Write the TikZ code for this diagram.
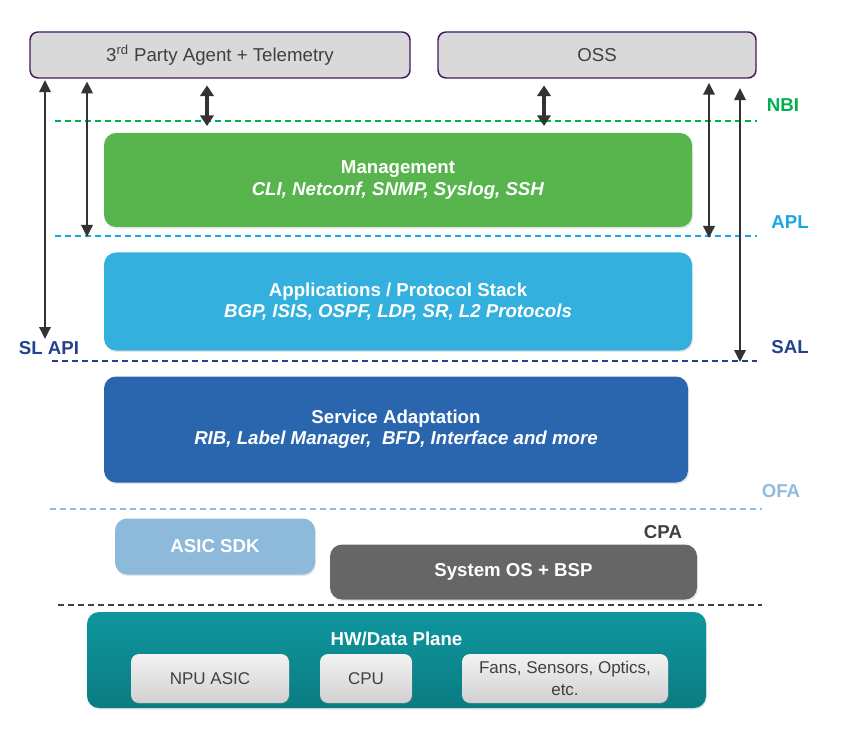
\documentclass[tikz,border=0pt]{standalone}
\usepackage{fontspec}
\setmainfont{Liberation Sans}
\usetikzlibrary{arrows.meta, shadows}
\definecolor{boxedge}{RGB}{65,25,90}
\definecolor{topgray}{RGB}{217,217,217}
\definecolor{txtgray}{RGB}{64,64,64}
\definecolor{arrowgray}{RGB}{51,51,51}
\definecolor{nbigreen}{RGB}{0,176,80}
\definecolor{mgmtgreen}{RGB}{88,181,78}
\definecolor{aplblue}{RGB}{26,167,224}
\definecolor{appsblue}{RGB}{51,176,222}
\definecolor{salnavy}{RGB}{34,65,143}
\definecolor{sablue}{RGB}{42,102,174}
\definecolor{ofablue}{RGB}{143,188,223}
\definecolor{asicblue}{RGB}{141,185,219}
\definecolor{osgray}{RGB}{102,102,102}
\definecolor{hwtop}{RGB}{14,150,157}
\definecolor{hwbot}{RGB}{10,124,130}

\begin{document}
\begin{tikzpicture}[x=0.75pt, y=-0.75pt,
  topbox/.style={draw=boxedge, line width=1.1pt, fill=topgray, rounded corners=6pt, text=txtgray,
    font=\fontsize{14}{16}\selectfont, minimum height=34.5pt},
  layerbox/.style={rounded corners=9pt, text=white, align=center, inner sep=0pt,
    font=\fontsize{14}{16}\selectfont\bfseries,
    drop shadow={opacity=0.2, shadow xshift=0.8pt, shadow yshift=-1.2pt}},
  chipbox/.style={rounded corners=6pt, top color=white!95!black, bottom color=white!82!black, text=txtgray,
    align=center, font=\fontsize{12.75}{16.5}\selectfont, minimum height=36.75pt,
    drop shadow={opacity=0.25, shadow xshift=0.6pt, shadow yshift=-1pt}},
  ifline/.style={dash pattern=on 4.5pt off 3pt, line width=1.1pt},
  iflabel/.style={font=\fontsize{14}{16}\selectfont\bfseries},
  apiarrow/.style={{Triangle[width=8.5pt,length=9pt]}-{Triangle[width=8.5pt,length=9pt]}, line width=1.8pt, arrowgray},
  nbiarrow/.style={{Triangle[width=10pt,length=8pt]}-{Triangle[width=10pt,length=8pt]}, line width=2.6pt, arrowgray}]
  \useasboundingbox (0,0) rectangle (841,748);

  % consumers on top
  \node[topbox, minimum width=285pt] (tpa) at (220,55) {3\textsuperscript{rd} Party Agent + Telemetry};
  \node[topbox, minimum width=238.5pt] (oss) at (597,55) {OSS};

  % software layers
  \node[layerbox, fill=mgmtgreen, minimum width=441pt, minimum height=70.5pt] (mgmt) at (398,180)
    {Management\\\textit{CLI, Netconf, SNMP, Syslog, SSH}};
  \node[layerbox, fill=appsblue, minimum width=441pt, minimum height=73.5pt] (apps) at (398,301.5)
    {Applications / Protocol Stack\\\textit{BGP, ISIS, OSPF, LDP, SR, L2 Protocols}};
  \node[layerbox, fill=sablue, minimum width=438pt, minimum height=79.5pt] (sa) at (396,429.5)
    {Service Adaptation\\\textit{RIB, Label Manager,\ \ BFD, Interface and more}};
  \node[layerbox, fill=asicblue, minimum width=150pt, minimum height=42pt] (asic) at (215,546.5) {ASIC SDK};
  \node[layerbox, fill=osgray, minimum width=275.25pt, minimum height=41.25pt] (sysos) at (513.5,572) {System OS + BSP};

  % hardware
  \node[layerbox, top color=hwtop, bottom color=hwbot, minimum width=464.25pt, minimum height=72pt] (hw) at (396.5,660) {};
  \node[font=\fontsize{14}{16}\selectfont\bfseries, text=white] (hwtitle) at (396.5,639) {HW/Data Plane};
  \node[chipbox, minimum width=118.5pt] (npu) at (210,678.5) {NPU ASIC};
  \node[chipbox, minimum width=69pt] (cpu) at (366,678.5) {CPU};
  \node[chipbox, minimum width=154.5pt] (fans) at (565,678.5) {Fans, Sensors, Optics,\\etc.};

  % interface lines
  \coordinate (nbi-w) at (55,121);  \coordinate (nbi-e) at (757,121);
  \coordinate (apl-w) at (55,236);  \coordinate (apl-e) at (757,236);
  \coordinate (sal-w) at (52,361);  \coordinate (sal-e) at (757,361);
  \coordinate (ofa-w) at (50,509);  \coordinate (ofa-e) at (762,509);
  \coordinate (cpa-w) at (58,605);  \coordinate (cpa-e) at (762,605);
  \draw[ifline, nbigreen] (nbi-w) -- (nbi-e);
  \draw[ifline, aplblue] (apl-w) -- (apl-e);
  \draw[ifline, salnavy] (sal-w) -- (sal-e);
  \draw[ifline, ofablue] (ofa-w) -- (ofa-e);
  \draw[ifline, txtgray] (cpa-w) -- (cpa-e);

  \node[iflabel, nbigreen] (nbi) at (783,105) {NBI};
  \node[iflabel, aplblue] (apl) at (790,222) {APL};
  \node[iflabel, salnavy] (sal) at (790,347) {SAL};
  \node[iflabel, salnavy] (slapi) at (49,348) {SL API};
  \node[iflabel, ofablue] (ofa) at (781,491) {OFA};
  \node[iflabel, txtgray] (cpa) at (663,532) {CPA};

  % arrows
  \coordinate (slapi-end) at (45,339);
  \coordinate (apl-left) at (87,237);
  \coordinate (nbi-left) at (207,126);
  \coordinate (nbi-right) at (544,126);
  \coordinate (apl-right) at (709,238);
  \coordinate (sal-right) at (740,362);
  \draw[apiarrow, shorten <=1pt] (tpa.south -| slapi-end) -- (slapi-end);
  \draw[apiarrow, shorten <=2pt] (tpa.south -| apl-left) -- (apl-left);
  \draw[nbiarrow, shorten <=5pt] (tpa.south -| nbi-left) -- (nbi-left);
  \draw[nbiarrow, shorten <=5pt] (oss.south -| nbi-right) -- (nbi-right);
  \draw[apiarrow, shorten <=3pt] (oss.south -| apl-right) -- (apl-right);
  \draw[apiarrow, shorten <=7pt] (oss.south -| sal-right) -- (sal-right);
\end{tikzpicture}
\end{document}
